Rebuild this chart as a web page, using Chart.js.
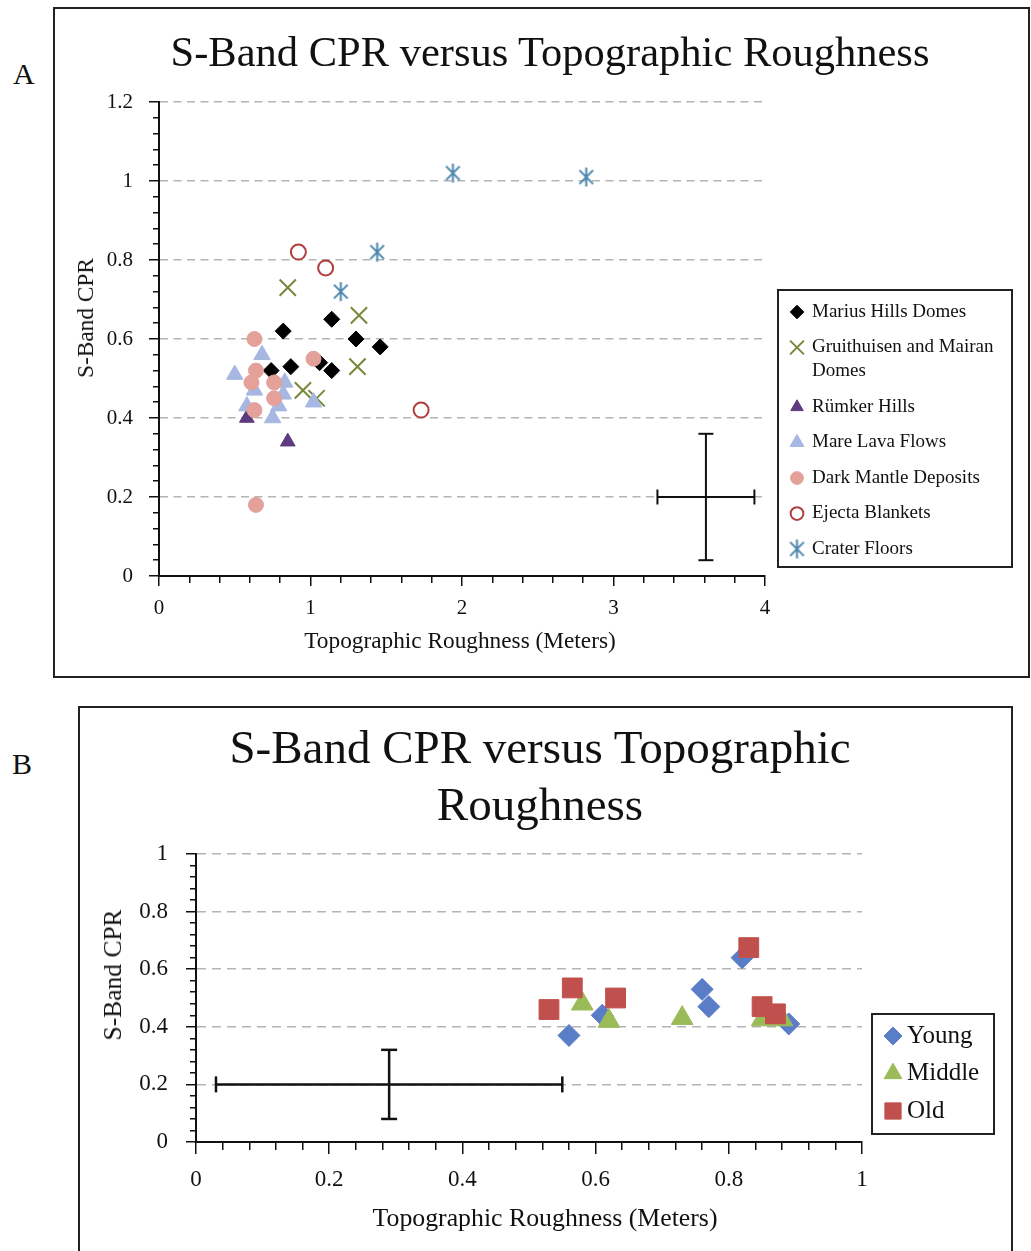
<!DOCTYPE html>
<html>
<head>
<meta charset="utf-8">
<script src="https://cdn.jsdelivr.net/npm/chart.js@4.4.1/dist/chart.umd.min.js"></script>
<style>
  body { margin: 0; background: #fff; width: 1031px; height: 1251px; overflow: hidden; position: relative;
         font-family: 'Liberation Serif', 'Times New Roman', serif; color: #111; }
  .panel { position: absolute; border: 2px solid #222; overflow: hidden; box-sizing: border-box; }
  #panelA { left: 53px; top: 7px; width: 977px; height: 671px; }
  #panelB { left: 78px; top: 706px; width: 935px; height: 570px; }
  .panel canvas { position: absolute; left: 0; top: 0; }
  .tag { position: absolute; font-size: 30px; line-height: 30px; }
  .txt { position: absolute; white-space: nowrap; transform: translate(-50%, -50%); text-align: center; }
  .txt.up { transform: translate(-50%, -50%) rotate(-90deg); }
</style>
</head>
<body>
<div class="tag" style="left:13px; top:59px;">A</div>
<div class="tag" style="left:12px; top:749px;">B</div>
<div class="panel" id="panelA"><canvas id="chartA" width="972" height="666"></canvas></div>
<div class="panel" id="panelB"><canvas id="chartB" width="930" height="545"></canvas></div>

<!-- chart and axis titles -->
<div class="txt" style="left:550px; top:52px; font-size:42.5px; line-height:50px;">S-Band CPR versus Topographic Roughness</div>
<div class="txt" style="left:460px; top:640px; font-size:23.3px; line-height:28px;">Topographic Roughness (Meters)</div>
<div class="txt up" style="left:85px; top:318px; font-size:23.3px; line-height:28px;">S-Band CPR</div>
<div class="txt" style="left:540px; top:776px; font-size:47px; line-height:57px;">S-Band CPR versus Topographic<br>Roughness</div>
<div class="txt" style="left:545px; top:1218px; font-size:25.8px; line-height:30px;">Topographic Roughness (Meters)</div>
<div class="txt up" style="left:113px; top:975px; font-size:25.5px; line-height:30px;">S-Band CPR</div>

<script>
// panel A: [topographic roughness (m), S-band CPR]
const mariusHills = [[0.82, 0.62], [1.14, 0.65], [1.30, 0.60], [1.46, 0.58], [0.74, 0.52], [0.87, 0.53], [1.06, 0.54], [1.14, 0.52]];
const gruithuisenMairan = [[0.85, 0.73], [1.32, 0.66], [1.31, 0.53], [0.95, 0.47], [1.04, 0.45]];
const rumkerHills = [[0.58, 0.40], [0.85, 0.34]];
const mareLavaFlows = [[0.68, 0.56], [0.50, 0.51], [0.83, 0.49], [0.63, 0.47], [0.82, 0.46], [0.58, 0.43], [0.79, 0.43], [0.75, 0.40], [1.02, 0.44]];
const darkMantle = [[0.63, 0.60], [0.64, 0.52], [0.61, 0.49], [0.76, 0.49], [0.76, 0.45], [0.63, 0.42], [1.02, 0.55], [0.64, 0.18]];
const ejectaBlankets = [[0.92, 0.82], [1.10, 0.78], [1.73, 0.42]];
const craterFloors = [[1.94, 1.02], [2.82, 1.01], [1.44, 0.82], [1.20, 0.72]];
const errorA = { x: 3.61, y: 0.2, dx: 0.32, dy: 0.16 };

// panel B: dome age groups
const young = [[0.56, 0.37], [0.61, 0.44], [0.76, 0.53], [0.77, 0.47], [0.82, 0.64], [0.89, 0.41]];
const middle = [[0.58, 0.48], [0.62, 0.42], [0.73, 0.43], [0.85, 0.425], [0.88, 0.425]];
const old = [[0.53, 0.46], [0.565, 0.535], [0.63, 0.50], [0.83, 0.675], [0.85, 0.47], [0.87, 0.445]];
const errorB = { x: 0.29, y: 0.2, dx: 0.26, dy: 0.12 };

const SERIF = "'Liberation Serif', 'Times New Roman', serif";
const INK = '#111';

const pts = (arr) => arr.map(([x, y]) => ({ x, y }));
const isMajor = (v, step) => Math.abs(v / step - Math.round(v / step)) < 1e-6;

// excel style asterisk: vertical stroke plus an X
function asterisk(color, size) {
  const c = document.createElement('canvas');
  c.width = c.height = size;
  const g = c.getContext('2d');
  const h = size / 2, r = h - 1, d = r * 0.72;
  g.strokeStyle = color;
  g.lineWidth = 2;
  g.beginPath();
  g.moveTo(h, h - r); g.lineTo(h, h + r);
  g.moveTo(h - d, h - d); g.lineTo(h + d, h + d);
  g.moveTo(h + d, h - d); g.lineTo(h - d, h + d);
  g.stroke();
  return c;
}

function series(label, data, pointStyle, radius, fill, stroke, width) {
  return {
    label, data: pts(data), pointStyle, pointRadius: radius, pointHoverRadius: radius,
    backgroundColor: fill, borderColor: stroke, borderWidth: width
  };
}

// cross shaped error bar built from two short line datasets
function errorBars(e, cap, width) {
  const common = {
    showLine: true, inLegend: false, borderColor: INK, backgroundColor: INK,
    borderWidth: width, pointStyle: 'line', pointRadius: cap, pointBorderWidth: width
  };
  return [
    Object.assign({ data: [{ x: e.x, y: e.y - e.dy }, { x: e.x, y: e.y + e.dy }] }, common),
    Object.assign({ data: [{ x: e.x - e.dx, y: e.y }, { x: e.x + e.dx, y: e.y }], rotation: 90 }, common)
  ];
}

function wrap(ctx, text, maxWidth) {
  const lines = [];
  let cur = '';
  text.split(' ').forEach((w) => {
    const test = cur ? cur + ' ' + w : w;
    if (cur && ctx.measureText(test).width > maxWidth) { lines.push(cur); cur = w; }
    else cur = test;
  });
  lines.push(cur);
  return lines;
}

// boxed legend drawn at a fixed spot inside the canvas
const boxLegend = {
  id: 'boxLegend',
  afterDraw(chart, args, o) {
    const ctx = chart.ctx;
    ctx.save();
    ctx.lineWidth = 2;
    ctx.strokeStyle = '#222';
    ctx.strokeRect(o.x, o.y, o.width, o.height);
    ctx.font = o.fontSize + 'px ' + SERIF;
    ctx.textBaseline = 'middle';
    let y = o.firstRow;
    chart.data.datasets.forEach((ds) => {
      if (ds.inLegend === false) return;
      const lines = wrap(ctx, ds.label, o.textWidth);
      ctx.fillStyle = ds.backgroundColor;
      ctx.strokeStyle = ds.borderColor;
      ctx.lineWidth = ds.borderWidth;
      Chart.helpers.drawPoint(ctx, {
        pointStyle: ds.pointStyle, rotation: 0,
        radius: ds.pointRadius * o.markerScale, borderWidth: ds.borderWidth
      }, o.markerX, y);
      ctx.fillStyle = INK;
      lines.forEach((ln, i) => ctx.fillText(ln, o.textX, y + i * o.lineHeight));
      y += o.rowGap + (lines.length - 1) * o.lineHeight;
    });
    ctx.restore();
  }
};

function axis(o) {
  const left = o.position === 'left';
  return {
    type: 'linear', position: o.position, min: o.min, max: o.max,
    afterFit: (s) => { if (left) s.width = o.size; else s.height = o.size; },
    ticks: {
      stepSize: o.minor, autoSkip: false, maxRotation: 0, padding: o.pad, color: INK,
      font: { family: SERIF, size: o.tickFont },
      callback: (v) => isMajor(v, o.major) ? String(+v.toFixed(2)) : ''
    },
    grid: {
      drawOnChartArea: left,
      color: (c) => (c.tick && c.tick.value > 0 && isMajor(c.tick.value, o.major)) ? '#b4b4b4' : 'rgba(0,0,0,0)',
      lineWidth: 1.5,
      tickColor: INK, tickWidth: 1.5, tickLength: o.tickLen,
      tickBorderDash: (c) => (c.tick && isMajor(c.tick.value, o.major)) ? [] :
        (left ? [0, o.tickLen - o.minorLen, o.minorLen, 100] : [o.minorLen, 100])
    },
    border: { color: INK, width: 2, dash: o.dash }
  };
}

function baseOptions(cfg) {
  return {
    responsive: false, animation: false, events: [],
    layout: { padding: cfg.padding },
    plugins: {
      legend: { display: false },
      tooltip: { enabled: false },
      boxLegend: cfg.legend
    },
    scales: { x: axis(cfg.x), y: axis(cfg.y) }
  };
}

const datasetsA = [
  series('Marius Hills Domes', mariusHills, 'rectRot', 8, '#000', '#000', 1),
  series('Gruithuisen and Mairan Domes', gruithuisenMairan, 'crossRot', 11.5, '#76883a', '#76883a', 2),
  series('Rümker Hills', rumkerHills, 'triangle', 8.5, '#5e3a80', '#5e3a80', 1),
  series('Mare Lava Flows', mareLavaFlows, 'triangle', 9.5, '#a6b7e1', '#a6b7e1', 1),
  series('Dark Mantle Deposits', darkMantle, 'circle', 7.5, '#e3a19a', '#e3a19a', 1),
  series('Ejecta Blankets', ejectaBlankets, 'circle', 7.5, 'rgba(0,0,0,0)', '#b13e3e', 2),
  series('Crater Floors', craterFloors, asterisk('#4a86ad', 21), 10, '#4a86ad', '#4a86ad', 2)
].map((d, i) => Object.assign(d, { order: -i })).concat(errorBars(errorA, 7.5, 2));

new Chart(document.getElementById('chartA'), {
  type: 'scatter',
  data: { datasets: datasetsA },
  options: baseOptions({
    padding: { left: 0, right: 262, top: 93, bottom: 0 },
    legend: {
      x: 723, y: 281, width: 234, height: 277, markerX: 742, textX: 757, firstRow: 303,
      rowGap: 35.5, lineHeight: 24, textWidth: 200, fontSize: 19, markerScale: 0.85
    },
    x: {
      position: 'bottom', min: 0, max: 4, minor: 0.2, major: 1, size: 99, pad: 10,
      tickLen: 10, minorLen: 6, tickFont: 21, dash: []
    },
    y: {
      position: 'left', min: 0, max: 1.2, minor: 0.04, major: 0.2, size: 104, pad: 16,
      tickLen: 10, minorLen: 6, tickFont: 21, dash: [8, 5.5]
    }
  }),
  plugins: [boxLegend]
});

const datasetsB = [
  series('Young', young, 'rectRot', 11, '#5a7dc8', '#5a7dc8', 1),
  series('Middle', middle, 'triangle', 12.5, '#9bbb59', '#9bbb59', 1),
  series('Old', old, 'rect', 14, '#c0504d', '#c0504d', 1)
].map((d, i) => Object.assign(d, { order: -i })).concat(errorBars(errorB, 8, 2.5));

new Chart(document.getElementById('chartB'), {
  type: 'scatter',
  data: { datasets: datasetsB },
  options: baseOptions({
    padding: { left: 0, right: 148, top: 146, bottom: 0 },
    legend: {
      x: 792, y: 306, width: 122, height: 120, markerX: 813, textX: 827, firstRow: 328,
      rowGap: 37.5, lineHeight: 28, textWidth: 200, fontSize: 25, markerScale: 0.82
    },
    x: {
      position: 'bottom', min: 0, max: 1, minor: 0.04, major: 0.2, size: 111, pad: 12,
      tickLen: 12, minorLen: 7, tickFont: 23, dash: []
    },
    y: {
      position: 'left', min: 0, max: 1, minor: 0.04, major: 0.2, size: 116, pad: 18,
      tickLen: 10, minorLen: 6, tickFont: 23, dash: [9, 6]
    }
  }),
  plugins: [boxLegend]
});
</script>
</body>
</html>
